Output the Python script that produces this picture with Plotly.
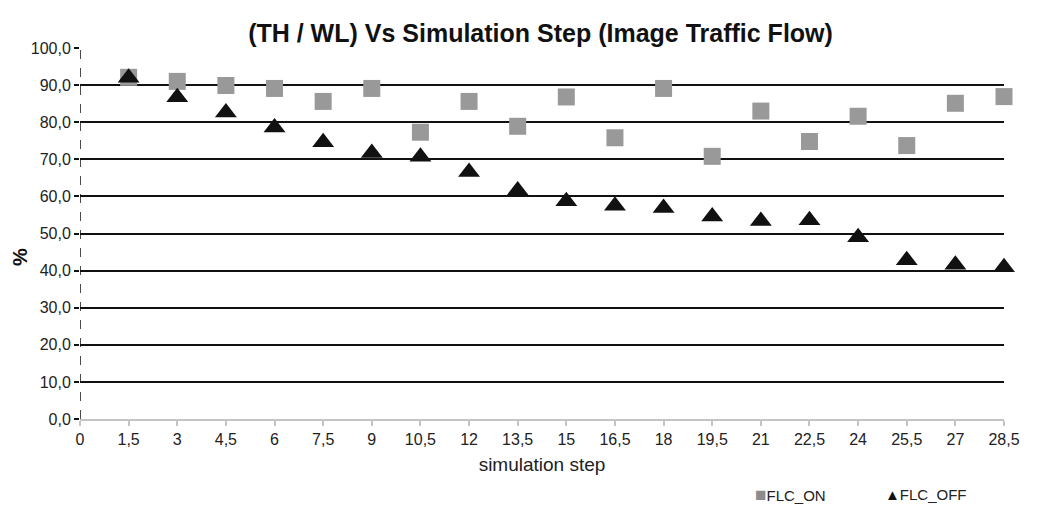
import plotly.graph_objects as go

steps = [1.5, 3, 4.5, 6, 7.5, 9, 10.5, 12, 13.5, 15, 16.5, 18, 19.5, 21, 22.5, 24, 25.5, 27, 28.5]
flc_on = [92.1, 91.0, 89.9, 89.1, 85.6, 89.1, 77.3, 85.6, 78.9, 86.8, 75.8, 89.1, 70.8, 83.0, 74.8, 81.6, 73.7, 85.1, 86.9]
flc_off = [92.0, 86.7, 82.6, 78.6, 74.6, 71.7, 70.7, 66.6, 61.6, 58.7, 57.5, 56.9, 54.6, 53.4, 53.6, 49.0, 42.8, 41.6, 40.9]
x_ticks = [0, 1.5, 3, 4.5, 6, 7.5, 9, 10.5, 12, 13.5, 15, 16.5, 18, 19.5, 21, 22.5, 24, 25.5, 27, 28.5]
y_ticks = [0, 10, 20, 30, 40, 50, 60, 70, 80, 90, 100]

# page is offset by the 8px body margin
W, H = 1034, 500
L, R, T, B = 72, 38, 40, 89

fig = go.Figure()
fig.add_trace(go.Scatter(x=steps, y=flc_on, mode="markers", name="FLC_ON",
                         marker=dict(symbol="square", size=17, color="#999999"),
                         cliponaxis=False, showlegend=False))
fig.add_trace(go.Scatter(x=steps, y=flc_off, mode="markers", name="FLC_OFF",
                         marker=dict(symbol="triangle-up", size=19, color="#111111"),
                         cliponaxis=False, showlegend=False))

font = "Liberation Sans, Arial, sans-serif"


def px_x(x):
    return (x - L) / (W - L - R)


def px_y(y):
    return (H - B - y) / (H - T - B)


fig.update_layout(
    width=W, height=H,
    margin=dict(l=L, r=R, t=T, b=B),
    plot_bgcolor="white", paper_bgcolor="white",
    separators=",.",
    font=dict(family=font, size=16, color="#222222"),
    title=dict(text="<b>(TH / WL) Vs Simulation Step (Image Traffic Flow)</b>",
               x=0.515, xanchor="center", y=1 - 25 / H, yanchor="middle",
               font=dict(size=25, color="#111111")),
    xaxis=dict(range=[0, 28.5], tickvals=x_ticks,
               ticktext=[str(v).replace(".", ",") if v != int(v) else str(int(v)) for v in x_ticks],
               showgrid=False, zeroline=False, showline=True, linecolor="#c4c4c4", linewidth=2,
               ticks="outside", ticklen=5, tickcolor="#c4c4c4", tickwidth=1.5,
               title=dict(text="simulation step", font=dict(size=19), standoff=10)),
    yaxis=dict(range=[0, 100], tickvals=y_ticks, tickformat=".1f",
               showgrid=True, gridcolor="#111111", gridwidth=2, zeroline=False,
               ticks="outside", ticklen=5, tickcolor="#111111", tickwidth=1.5),
    shapes=[dict(type="line", xref="x", yref="paper", x0=0, x1=0, y0=0, y1=1,
                 line=dict(color="#111111", width=1.5, dash="dash"), layer="above")],
    annotations=[
        dict(text="<b>%</b>", xref="paper", yref="paper", x=px_x(12), y=px_y(249),
             textangle=-90, showarrow=False, xanchor="center", yanchor="middle",
             font=dict(size=20, color="#111111")),
        dict(text="<span style='color:#8c8c8c;font-size:19px'>■</span>FLC_ON", xref="paper", yref="paper",
             x=px_x(745), y=px_y(486), showarrow=False, xanchor="left", yanchor="middle",
             font=dict(size=15)),
        dict(text="<span style='color:#111111'>▲</span>FLC_OFF", xref="paper", yref="paper",
             x=px_x(875), y=px_y(486), showarrow=False, xanchor="left", yanchor="middle",
             font=dict(size=15)),
    ],
)

fig.write_html("out.html")
